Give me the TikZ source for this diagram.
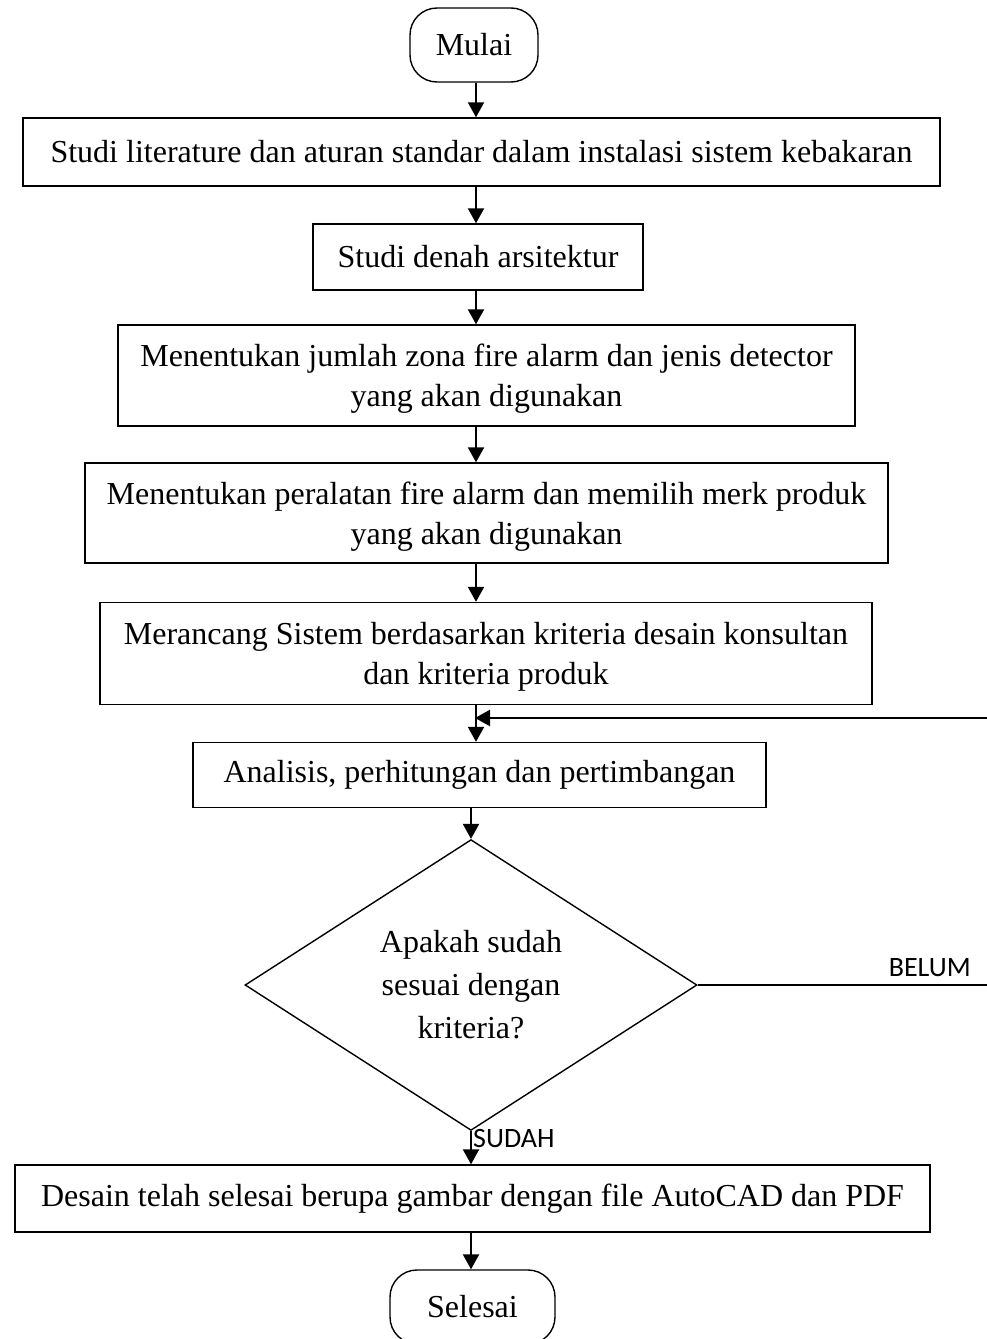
\documentclass[tikz,border=0pt]{standalone}
\usepackage{fontspec}
\setmainfont{Liberation Serif}
\newfontfamily\lblfont{Carlito}
\usetikzlibrary{arrows.meta,shapes.geometric}

\tikzset{
  box/.style={draw, line width=1.4pt, inner sep=0pt, align=center,
    font=\fontsize{32}{40}\selectfont},
  twoline/.style={text depth=0pt},
  term/.style={box, rounded corners=27pt},
  decision/.style={draw, diamond, line width=1.4pt, inner sep=0pt, align=center,
    font=\fontsize{32}{43}\selectfont},
  conn/.style={line width=2.2pt},
  arr/.style={conn, -{Triangle[length=15pt,width=16pt]}},
  lbl/.style={inner sep=0pt, font=\lblfont\fontsize{28}{30}\selectfont}
}

\begin{document}
\begin{tikzpicture}[x=1pt,y=-1pt]
\useasboundingbox (0,0) rectangle (987,1339);
\clip (0,0) rectangle (987,1339);

% process steps
\node[term, minimum width=128pt, minimum height=74pt] (mulai) at (474,45) {Mulai};
\node[box, minimum width=917pt, minimum height=68pt] (b1) at (481.5,152)
  {Studi literature dan aturan standar dalam instalasi sistem kebakaran};
\node[box, minimum width=330pt, minimum height=66pt] (b2) at (478,257)
  {Studi denah arsitektur};
\node[box, twoline, minimum width=737pt, minimum height=101pt] (b3) at (486.5,375.5)
  {Menentukan jumlah zona fire alarm dan jenis detector\\yang akan digunakan};
\node[box, twoline, minimum width=803pt, minimum height=100pt] (b4) at (486.5,513)
  {Menentukan peralatan fire alarm dan memilih merk produk\\yang akan digunakan};
\node[box, twoline, minimum width=772pt, minimum height=102pt] (b5) at (486,653.5)
  {Merancang Sistem berdasarkan kriteria desain konsultan\\dan kriteria produk};
\node[box, minimum width=573pt, minimum height=65pt] (b6) at (479.5,775)
  {Analisis, perhitungan dan pertimbangan};
\node[decision, minimum width=452pt, minimum height=284pt] (dec) at (471,985)
  {Apakah sudah\\sesuai dengan\\kriteria?};
\node[box, minimum width=915pt, minimum height=67pt] (b7) at (472.5,1198.5)
  {Desain telah selesai berupa gambar dengan file AutoCAD dan PDF};
\node[term, minimum width=165pt, minimum height=74pt] (selesai) at (472.5,1307) {Selesai};

% connector columns and free ends
\coordinate (ux) at (476,0);
\coordinate (lx) at (471,0);
\coordinate (fb) at (987,718);
\coordinate (ne) at (987,985);

% main flow
\draw[arr] (mulai.south -| ux) -- (b1.north -| ux);
\draw[arr] (b1.south -| ux) -- (b2.north -| ux);
\draw[arr] (b2.south -| ux) -- (b3.north -| ux);
\draw[arr] (b3.south -| ux) -- (b4.north -| ux);
\draw[arr] (b4.south -| ux) -- (b5.north -| ux);
\draw[arr] (b5.south -| ux) -- (b6.north -| ux);
\draw[arr] (b6.south -| lx) -- (dec.north);
\draw[arr] (dec.south) -- (b7.north -| lx);
\draw[arr] (b7.south -| lx) -- (selesai.north -| lx);

% loop back on "BELUM"
\draw[conn] (dec.east) -- (ne);
\draw[arr, shorten >=-1pt] (fb) -- (fb -| ux);

% branch labels
\node[lbl, anchor=base east] (belum) at (971,976) {BELUM};
\node[lbl, anchor=base west] (sudah) at (473,1147) {SUDAH};
\end{tikzpicture}
\end{document}
